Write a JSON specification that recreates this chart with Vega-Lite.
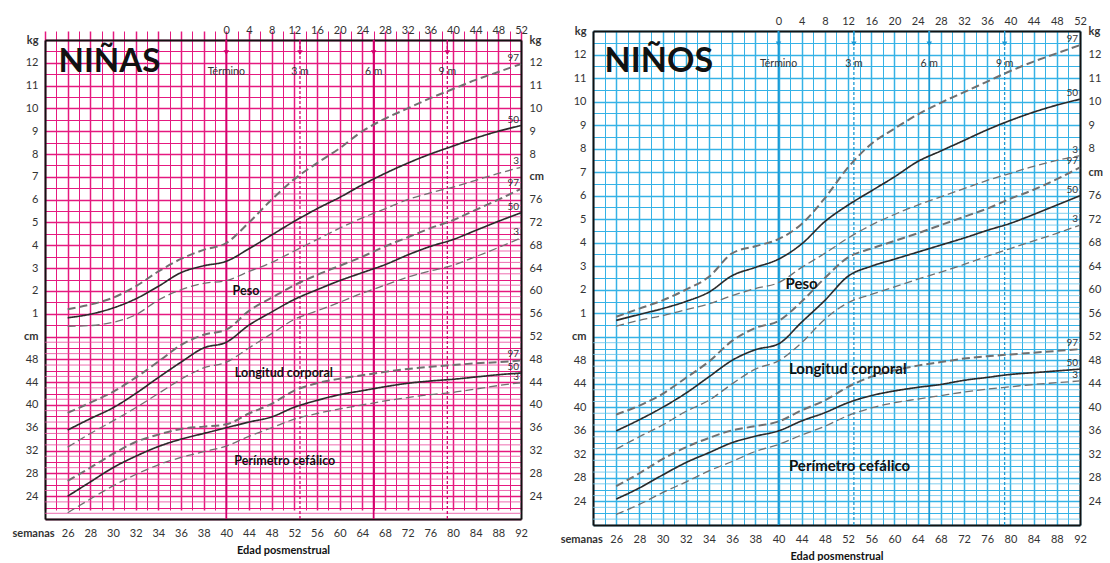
{
"$schema":"https://vega.github.io/schema/vega-lite/v6.json",
"padding":{"left":11,"top":15,"right":0,"bottom":0},
"spacing":16,
"config":{"font":"Lato","view":{"stroke":null},"axis":{"labelFont":"Lato","labelFontSize":11,"labelColor":"#333","domainColor":"#111","domainWidth":2,"ticks":false,"labelOverlap":false,"labelFlush":false,"labelBound":false}},
"datasets":{
"gc":[
{"w":26,"p":"50","peso":0.82,"long":35.6,"pc":24.0},{"w":28,"p":"50","peso":0.98,"long":37.6,"pc":26.5},{"w":30,"p":"50","peso":1.25,"long":39.5,"pc":29.0},{"w":32,"p":"50","peso":1.65,"long":42.0,"pc":31.0},{"w":34,"p":"50","peso":2.2,"long":44.8,"pc":32.7},{"w":36,"p":"50","peso":2.8,"long":47.5,"pc":34.0},{"w":38,"p":"50","peso":3.1,"long":50.0,"pc":35.0},{"w":40,"p":"50","peso":3.3,"long":51.0,"pc":36.0},{"w":44,"p":"50","peso":3.85,"long":54.0,"pc":37.0},{"w":48,"p":"50","peso":4.45,"long":56.3,"pc":37.9},{"w":52,"p":"50","peso":5.05,"long":58.5,"pc":39.6},{"w":56,"p":"50","peso":5.6,"long":60.2,"pc":40.8},{"w":60,"p":"50","peso":6.1,"long":61.8,"pc":41.8},{"w":64,"p":"50","peso":6.65,"long":63.2,"pc":42.5},{"w":68,"p":"50","peso":7.15,"long":64.6,"pc":43.2},{"w":72,"p":"50","peso":7.6,"long":66.3,"pc":43.8},{"w":76,"p":"50","peso":8.0,"long":67.8,"pc":44.2},{"w":80,"p":"50","peso":8.35,"long":69.0,"pc":44.5},{"w":84,"p":"50","peso":8.7,"long":70.6,"pc":44.9},{"w":88,"p":"50","peso":9.0,"long":72.2,"pc":45.3},{"w":92,"p":"50","peso":9.25,"long":73.7,"pc":45.6},
{"w":26,"p":"97","peso":1.2,"long":38.6,"pc":26.7},{"w":28,"p":"97","peso":1.4,"long":40.4,"pc":29.0},{"w":30,"p":"97","peso":1.7,"long":42.3,"pc":31.4},{"w":32,"p":"97","peso":2.2,"long":44.8,"pc":33.5},{"w":34,"p":"97","peso":2.85,"long":47.6,"pc":34.8},{"w":36,"p":"97","peso":3.4,"long":50.5,"pc":35.8},{"w":38,"p":"97","peso":3.8,"long":52.3,"pc":36.2},{"w":40,"p":"97","peso":4.1,"long":53.2,"pc":36.6},{"w":44,"p":"97","peso":5.0,"long":56.5,"pc":38.5},{"w":48,"p":"97","peso":6.0,"long":58.8,"pc":40.2},{"w":52,"p":"97","peso":6.9,"long":61.0,"pc":42.5},{"w":56,"p":"97","peso":7.6,"long":62.8,"pc":43.8},{"w":60,"p":"97","peso":8.25,"long":64.4,"pc":44.6},{"w":64,"p":"97","peso":9.0,"long":66.0,"pc":45.2},{"w":68,"p":"97","peso":9.55,"long":67.8,"pc":45.8},{"w":72,"p":"97","peso":10.0,"long":69.4,"pc":46.3},{"w":76,"p":"97","peso":10.45,"long":71.0,"pc":46.7},{"w":80,"p":"97","peso":10.85,"long":72.4,"pc":47.0},{"w":84,"p":"97","peso":11.25,"long":74.2,"pc":47.3},{"w":88,"p":"97","peso":11.6,"long":76.0,"pc":47.5},{"w":92,"p":"97","peso":11.95,"long":77.9,"pc":47.8},
{"w":26,"p":"3","peso":0.45,"long":32.6,"pc":21.1},{"w":28,"p":"3","peso":0.48,"long":35.0,"pc":23.5},{"w":30,"p":"3","peso":0.62,"long":37.2,"pc":25.8},{"w":32,"p":"3","peso":0.95,"long":39.5,"pc":27.8},{"w":34,"p":"3","peso":1.6,"long":42.0,"pc":29.5},{"w":36,"p":"3","peso":2.05,"long":44.5,"pc":30.8},{"w":38,"p":"3","peso":2.33,"long":46.5,"pc":31.8},{"w":40,"p":"3","peso":2.45,"long":47.5,"pc":32.8},{"w":44,"p":"3","peso":2.85,"long":50.0,"pc":34.5},{"w":48,"p":"3","peso":3.25,"long":52.5,"pc":36.0},{"w":52,"p":"3","peso":3.75,"long":55.0,"pc":37.5},{"w":56,"p":"3","peso":4.25,"long":56.5,"pc":38.5},{"w":60,"p":"3","peso":4.75,"long":58.0,"pc":39.3},{"w":64,"p":"3","peso":5.2,"long":59.6,"pc":40.0},{"w":68,"p":"3","peso":5.6,"long":61.0,"pc":40.7},{"w":72,"p":"3","peso":6.0,"long":62.4,"pc":41.3},{"w":76,"p":"3","peso":6.3,"long":63.5,"pc":41.8},{"w":80,"p":"3","peso":6.55,"long":64.5,"pc":42.2},{"w":84,"p":"3","peso":6.85,"long":66.0,"pc":42.8},{"w":88,"p":"3","peso":7.15,"long":67.6,"pc":43.4},{"w":92,"p":"3","peso":7.42,"long":69.3,"pc":43.9}
],
"bc":[
{"w":26,"p":"50","peso":0.7,"long":36.0,"pc":24.4},{"w":28,"p":"50","peso":0.95,"long":37.9,"pc":26.3},{"w":30,"p":"50","peso":1.2,"long":40.0,"pc":28.5},{"w":32,"p":"50","peso":1.5,"long":42.4,"pc":30.6},{"w":34,"p":"50","peso":1.9,"long":45.2,"pc":32.3},{"w":36,"p":"50","peso":2.6,"long":48.0,"pc":34.0},{"w":38,"p":"50","peso":2.95,"long":49.8,"pc":35.1},{"w":40,"p":"50","peso":3.3,"long":50.8,"pc":36.0},{"w":44,"p":"50","peso":3.95,"long":54.5,"pc":37.7},{"w":48,"p":"50","peso":4.9,"long":58.2,"pc":39.1},{"w":52,"p":"50","peso":5.6,"long":62.3,"pc":40.8},{"w":56,"p":"50","peso":6.2,"long":64.0,"pc":42.0},{"w":60,"p":"50","peso":6.8,"long":65.2,"pc":42.8},{"w":64,"p":"50","peso":7.45,"long":66.4,"pc":43.4},{"w":68,"p":"50","peso":7.9,"long":67.6,"pc":43.9},{"w":72,"p":"50","peso":8.35,"long":68.8,"pc":44.6},{"w":76,"p":"50","peso":8.8,"long":70.1,"pc":45.1},{"w":80,"p":"50","peso":9.2,"long":71.3,"pc":45.6},{"w":84,"p":"50","peso":9.55,"long":72.8,"pc":45.9},{"w":88,"p":"50","peso":9.85,"long":74.4,"pc":46.2},{"w":92,"p":"50","peso":10.1,"long":76.0,"pc":46.5},
{"w":26,"p":"97","peso":0.85,"long":38.8,"pc":26.6},{"w":28,"p":"97","peso":1.2,"long":40.3,"pc":28.8},{"w":30,"p":"97","peso":1.55,"long":42.3,"pc":31.2},{"w":32,"p":"97","peso":2.0,"long":45.0,"pc":33.2},{"w":34,"p":"97","peso":2.55,"long":47.8,"pc":34.8},{"w":36,"p":"97","peso":3.55,"long":51.3,"pc":36.1},{"w":38,"p":"97","peso":3.85,"long":53.5,"pc":36.8},{"w":40,"p":"97","peso":4.15,"long":54.7,"pc":37.6},{"w":44,"p":"97","peso":4.8,"long":58.0,"pc":39.5},{"w":48,"p":"97","peso":5.9,"long":62.0,"pc":41.2},{"w":52,"p":"97","peso":7.2,"long":65.5,"pc":43.5},{"w":56,"p":"97","peso":8.2,"long":67.0,"pc":45.2},{"w":60,"p":"97","peso":8.85,"long":68.3,"pc":46.3},{"w":64,"p":"97","peso":9.45,"long":69.6,"pc":47.1},{"w":68,"p":"97","peso":9.95,"long":71.0,"pc":47.7},{"w":72,"p":"97","peso":10.4,"long":72.4,"pc":48.3},{"w":76,"p":"97","peso":10.85,"long":73.8,"pc":48.7},{"w":80,"p":"97","peso":11.3,"long":75.5,"pc":49.0},{"w":84,"p":"97","peso":11.7,"long":77.0,"pc":49.3},{"w":88,"p":"97","peso":12.05,"long":78.8,"pc":49.6},{"w":92,"p":"97","peso":12.4,"long":80.8,"pc":49.9},
{"w":26,"p":"3","peso":0.45,"long":32.9,"pc":21.8},{"w":28,"p":"3","peso":0.7,"long":35.0,"pc":23.5},{"w":30,"p":"3","peso":0.9,"long":37.0,"pc":25.5},{"w":32,"p":"3","peso":1.15,"long":39.3,"pc":27.3},{"w":34,"p":"3","peso":1.4,"long":41.2,"pc":29.2},{"w":36,"p":"3","peso":1.75,"long":44.0,"pc":30.8},{"w":38,"p":"3","peso":2.05,"long":46.5,"pc":32.5},{"w":40,"p":"3","peso":2.3,"long":47.9,"pc":33.7},{"w":44,"p":"3","peso":2.95,"long":51.0,"pc":35.3},{"w":48,"p":"3","peso":3.55,"long":55.0,"pc":36.8},{"w":52,"p":"3","peso":4.2,"long":57.8,"pc":38.6},{"w":56,"p":"3","peso":4.75,"long":59.2,"pc":39.9},{"w":60,"p":"3","peso":5.2,"long":60.5,"pc":40.8},{"w":64,"p":"3","peso":5.6,"long":61.8,"pc":41.4},{"w":68,"p":"3","peso":5.95,"long":63.0,"pc":42.0},{"w":72,"p":"3","peso":6.3,"long":64.3,"pc":42.6},{"w":76,"p":"3","peso":6.65,"long":65.7,"pc":43.1},{"w":80,"p":"3","peso":6.95,"long":67.0,"pc":43.5},{"w":84,"p":"3","peso":7.25,"long":68.3,"pc":43.9},{"w":88,"p":"3","peso":7.5,"long":69.6,"pc":44.2},{"w":92,"p":"3","peso":7.7,"long":71.0,"pc":44.5}
],
"dense":[
{"w":24,"v":21},{"w":24,"v":23},{"w":24,"v":25},{"w":24,"v":27},{"w":24,"v":29},{"w":24,"v":31},{"w":24,"v":33},{"w":24,"v":35},{"w":24,"v":37},{"w":24,"v":39},{"w":24,"v":41},{"w":24,"v":43},{"w":24,"v":45},{"w":24,"v":47},{"w":24,"v":49},{"w":24,"v":51},
{"w":36,"v":53},{"w":36,"v":55},{"w":36,"v":57},{"w":36,"v":59},
{"w":48,"v":61},{"w":48,"v":63},{"w":48,"v":65},{"w":48,"v":67},{"w":48,"v":69},{"w":48,"v":71},{"w":48,"v":73},{"w":48,"v":75},{"w":48,"v":77},{"w":48,"v":79}
],
"mk":[{"w":40,"t":"Término"},{"w":53,"t":"3 m"},{"w":66,"t":"6 m"},{"w":79,"t":"9 m"}],
"gt":[{"w":41.1,"v":60.0,"t":"Peso"},{"w":41.5,"v":45.6,"t":"Longitud corporal"},{"w":41.4,"v":30.2,"t":"Perímetro cefálico"}],
"bt":[{"w":41.2,"v":61.0,"t":"Peso"},{"w":41.8,"v":46.5,"t":"Longitud corporal"},{"w":41.8,"v":30.0,"t":"Perímetro cefálico"}]
},
"hconcat":[
{
"width":476,"height":488,
"resolve":{"scale":{"x":"independent","y":"independent"}},
"layer":[
{
"layer":[
{"data":{"name":"dense"},"mark":{"type":"rule","color":"#e94a9d","strokeWidth":0.8},
"encoding":{"x":{"field":"w","type":"quantitative","scale":{"domain":[24,40,92],"range":[0,181.3,476],"nice":false,"zero":false},"axis":null},"x2":{"datum":92},
"y":{"field":"v","type":"quantitative","scale":{"domain":[20,104],"range":[488,9],"nice":false,"zero":false},"axis":null}}},
{"data":{"name":"mk"},"transform":[{"filter":"datum.t == 'Término' || datum.t == '6 m'"}],"mark":{"type":"rule","color":"#d4006e","strokeWidth":1.8},
"encoding":{"x":{"field":"w","type":"quantitative","scale":{"domain":[24,40,92],"range":[0,181.3,476],"nice":false,"zero":false},"axis":null},
"y":{"datum":20,"type":"quantitative","scale":{"domain":[20,104],"range":[488,9],"nice":false,"zero":false},"axis":null},"y2":{"datum":104}}},
{"data":{"name":"mk"},"transform":[{"filter":"datum.t == '3 m' || datum.t == '9 m'"}],"mark":{"type":"rule","color":"#d4006e","strokeWidth":1.3,"strokeDash":[3,2]},
"encoding":{"x":{"field":"w","type":"quantitative","scale":{"domain":[24,40,92],"range":[0,181.3,476],"nice":false,"zero":false},"axis":null},
"y":{"datum":20,"type":"quantitative","scale":{"domain":[20,104],"range":[488,9],"nice":false,"zero":false},"axis":null},"y2":{"datum":104}}}
]
},
{
"encoding":{
"x":{"field":"w","type":"quantitative","scale":{"domain":[24,40,92],"range":[0,181.3,476],"nice":false,"zero":false},
"axis":{"orient":"bottom","title":"Edad  posmenstrual","titleFontSize":11,"titleFontWeight":"bold","titleColor":"#111","titlePadding":6,"labelPadding":8,
"values":[24,24.8,25,26,27,28,29,30,31,32,33,34,35,36,37,38,39,40,42,44,46,48,50,52,54,56,58,60,62,64,66,68,70,72,74,76,78,80,82,84,86,88,90,92],
"labelExpr":"datum.value == 24.8 ? 'semanas' : (datum.value >= 26 && ((datum.value <= 40 && datum.value % 2 == 0) || (datum.value > 40 && datum.value % 4 == 0))) ? datum.value : ''",
"labelAlign":{"condition":{"test":"datum.value == 24.8","value":"right"},"value":"center"},
"labelFontWeight":{"condition":{"test":"datum.value == 24.8","value":"bold"},"value":"normal"},
"grid":true,"gridColor":"#e5197f",
"gridOpacity":{"condition":{"test":"datum.value == 24.8","value":0},"value":1},
"gridWidth":{"condition":{"test":"(datum.value <= 40 && datum.value % 2 == 0) || (datum.value > 40 && datum.value % 4 == 0)","value":1.5},"value":1}}},
"y":{"field":"v","type":"quantitative","scale":{"domain":[20,104],"range":[488,9],"nice":false,"zero":false},
"axis":{"orient":"left","title":null,"labelPadding":7,
"values":[20,22,24,26,28,30,32,34,36,38,40,42,44,46,48,50,52,54,56,58,60,62,64,66,68,70,72,74,76,78,80,82,84,86,88,90,92,94,96,98,100,102,104],
"labelExpr":"datum.value < 24 || datum.value % 4 != 0 ? '' : datum.value <= 48 ? datum.value : datum.value == 52 ? 'cm' : datum.value == 104 ? 'kg' : (datum.value - 52) / 4",
"labelFontWeight":{"condition":{"test":"datum.value == 52 || datum.value == 104","value":"bold"},"value":"normal"},
"grid":true,"gridColor":"#e5197f",
"gridWidth":{"condition":{"test":"datum.value % 4 == 0","value":1.4},"value":1}}}
},
"layer":[
{"data":{"name":"gc"},"transform":[{"fold":["long","pc"],"as":["m","v"]}],"mark":{"type":"line","interpolate":"monotone"},
"encoding":{"detail":{"field":"m"},
"color":{"field":"p","type":"nominal","scale":{"domain":["3","50","97"],"range":["#707070","#2a2a2a","#707070"]},"legend":null},
"strokeDash":{"field":"p","type":"nominal","scale":{"domain":["3","50","97"],"range":[[8,4],[1,0],[8,4]]},"legend":null},
"strokeWidth":{"field":"p","type":"ordinal","scale":{"domain":["3","50","97"],"range":[1.3,2,1.3]},"legend":null}}},
{"data":{"name":"gc"},"transform":[{"fold":["long","pc"],"as":["m","v"]},{"filter":"datum.w == 92"}],"mark":{"type":"text","align":"right","baseline":"bottom","dx":-2,"dy":-1,"fontSize":10,"color":"#333"},"encoding":{"text":{"field":"p"}}},
{"data":{"name":"gt"},"mark":{"type":"text","align":"left","baseline":"middle","fontSize":12.5,"fontWeight":"bold","color":"#111"},"encoding":{"text":{"field":"t"}}}
]
},
{
"encoding":{
"x":{"field":"w","type":"quantitative","scale":{"domain":[24,40,92],"range":[0,181.3,476],"nice":false,"zero":false},
"axis":{"orient":"top","title":null,"offset":-9,"labelPadding":5,"grid":false,"values":[40,44,48,52,56,60,64,68,72,76,80,84,88,92],"labelExpr":"datum.value - 40"}},
"y":{"field":"peso","type":"quantitative","scale":{"domain":[-8,13],"range":[488,9],"nice":false,"zero":false},
"axis":{"orient":"right","title":null,"labelPadding":8,"grid":false,
"values":[-7,-6,-5,-4,-3,-2,-1,0,1,2,3,4,5,6,7,8,9,10,11,12,13],
"labelExpr":"datum.value == 13 ? 'kg' : datum.value == 7 ? 'cm' : datum.value >= 8 ? datum.value : 52 + 4 * datum.value",
"labelFontWeight":{"condition":{"test":"datum.value == 13 || datum.value == 7","value":"bold"},"value":"normal"}}}
},
"layer":[
{"data":{"name":"gc"},"mark":{"type":"line","interpolate":"monotone"},
"encoding":{
"color":{"field":"p","type":"nominal","scale":{"domain":["3","50","97"],"range":["#707070","#2a2a2a","#707070"]},"legend":null},
"strokeDash":{"field":"p","type":"nominal","scale":{"domain":["3","50","97"],"range":[[8,4],[1,0],[8,4]]},"legend":null},
"strokeWidth":{"field":"p","type":"ordinal","scale":{"domain":["3","50","97"],"range":[1.3,2,1.3]},"legend":null}}},
{"data":{"name":"gc"},"transform":[{"filter":"datum.w == 92"}],"mark":{"type":"text","align":"right","baseline":"bottom","dx":-2,"dy":-1,"fontSize":10,"color":"#333"},"encoding":{"text":{"field":"p"}}}
]
},
{
"layer":[
{"data":{"name":"mk"},"mark":{"type":"rule","color":"#d4006e","strokeWidth":1.3},
"encoding":{"x":{"field":"w","type":"quantitative","scale":{"domain":[24,40,92],"range":[0,181.3,476],"nice":false,"zero":false},"axis":null},
"y":{"datum":13,"type":"quantitative","scale":{"domain":[-8,13],"range":[488,9],"nice":false,"zero":false},"axis":null},"y2":{"datum":12.45}}},
{"data":{"name":"mk"},"mark":{"type":"point","shape":"triangle-down","filled":true,"size":30,"color":"#d4006e","opacity":1},
"encoding":{"x":{"field":"w","type":"quantitative","scale":{"domain":[24,40,92],"range":[0,181.3,476],"nice":false,"zero":false},"axis":null},
"y":{"datum":12.45,"type":"quantitative","scale":{"domain":[-8,13],"range":[488,9],"nice":false,"zero":false},"axis":null}}},
{"data":{"name":"mk"},"mark":{"type":"text","fontSize":10.5,"color":"#333","baseline":"middle"},
"encoding":{"x":{"field":"w","type":"quantitative","scale":{"domain":[24,40,92],"range":[0,181.3,476],"nice":false,"zero":false},"axis":null},
"y":{"datum":11.6,"type":"quantitative","scale":{"domain":[-8,13],"range":[488,9],"nice":false,"zero":false},"axis":null},"text":{"field":"t"}}},
{"data":{"values":[{"t":"NIÑAS"}]},"mark":{"type":"text","align":"left","baseline":"middle","fontSize":33,"fontWeight":"bold","color":"#111"},
"encoding":{"x":{"datum":25.2,"type":"quantitative","scale":{"domain":[24,40,92],"range":[0,181.3,476],"nice":false,"zero":false},"axis":null},
"y":{"datum":12.05,"type":"quantitative","scale":{"domain":[-8,13],"range":[488,9],"nice":false,"zero":false},"axis":null},"text":{"field":"t"}}}
]
}
]
},
{
"width":487,"height":494,
"resolve":{"scale":{"x":"independent","y":"independent"}},
"layer":[
{
"layer":[
{"data":{"name":"dense"},"mark":{"type":"rule","color":"#62c1ea","strokeWidth":0.8},
"encoding":{"x":{"field":"w","type":"quantitative","scale":{"domain":[24,40,92],"range":[0,185.5,487],"nice":false,"zero":false},"axis":null},"x2":{"datum":92},
"y":{"field":"v","type":"quantitative","scale":{"domain":[20,104],"nice":false,"zero":false},"axis":null}}},
{"data":{"name":"mk"},"transform":[{"filter":"datum.t == 'Término' || datum.t == '6 m'"}],"mark":{"type":"rule","color":"#1a9ad6","strokeWidth":1.8},
"encoding":{"x":{"field":"w","type":"quantitative","scale":{"domain":[24,40,92],"range":[0,185.5,487],"nice":false,"zero":false},"axis":null},
"y":{"datum":20,"type":"quantitative","scale":{"domain":[20,104],"nice":false,"zero":false},"axis":null},"y2":{"datum":104}}},
{"data":{"name":"mk"},"transform":[{"filter":"datum.t == '3 m' || datum.t == '9 m'"}],"mark":{"type":"rule","color":"#1a9ad6","strokeWidth":1.3,"strokeDash":[3,2]},
"encoding":{"x":{"field":"w","type":"quantitative","scale":{"domain":[24,40,92],"range":[0,185.5,487],"nice":false,"zero":false},"axis":null},
"y":{"datum":20,"type":"quantitative","scale":{"domain":[20,104],"nice":false,"zero":false},"axis":null},"y2":{"datum":104}}}
]
},
{
"encoding":{
"x":{"field":"w","type":"quantitative","scale":{"domain":[24,40,92],"range":[0,185.5,487],"nice":false,"zero":false},
"axis":{"orient":"bottom","title":"Edad  posmenstrual","titleFontSize":11,"titleFontWeight":"bold","titleColor":"#111","titlePadding":6,"labelPadding":8,
"values":[24,24.8,25,26,27,28,29,30,31,32,33,34,35,36,37,38,39,40,42,44,46,48,50,52,54,56,58,60,62,64,66,68,70,72,74,76,78,80,82,84,86,88,90,92],
"labelExpr":"datum.value == 24.8 ? 'semanas' : (datum.value >= 26 && ((datum.value <= 40 && datum.value % 2 == 0) || (datum.value > 40 && datum.value % 4 == 0))) ? datum.value : ''",
"labelAlign":{"condition":{"test":"datum.value == 24.8","value":"right"},"value":"center"},
"labelFontWeight":{"condition":{"test":"datum.value == 24.8","value":"bold"},"value":"normal"},
"grid":true,"gridColor":"#35b2e6",
"gridOpacity":{"condition":{"test":"datum.value == 24.8","value":0},"value":1},
"gridWidth":{"condition":{"test":"(datum.value <= 40 && datum.value % 2 == 0) || (datum.value > 40 && datum.value % 4 == 0)","value":1.5},"value":1}}},
"y":{"field":"v","type":"quantitative","scale":{"domain":[20,104],"nice":false,"zero":false},
"axis":{"orient":"left","title":null,"labelPadding":7,
"values":[20,22,24,26,28,30,32,34,36,38,40,42,44,46,48,50,52,54,56,58,60,62,64,66,68,70,72,74,76,78,80,82,84,86,88,90,92,94,96,98,100,102,104],
"labelExpr":"datum.value < 24 || datum.value % 4 != 0 ? '' : datum.value <= 48 ? datum.value : datum.value == 52 ? 'cm' : datum.value == 104 ? 'kg' : (datum.value - 52) / 4",
"labelFontWeight":{"condition":{"test":"datum.value == 52 || datum.value == 104","value":"bold"},"value":"normal"},
"grid":true,"gridColor":"#35b2e6",
"gridWidth":{"condition":{"test":"datum.value % 4 == 0","value":1.4},"value":1}}}
},
"layer":[
{"data":{"name":"bc"},"transform":[{"fold":["long","pc"],"as":["m","v"]}],"mark":{"type":"line","interpolate":"monotone"},
"encoding":{"detail":{"field":"m"},
"color":{"field":"p","type":"nominal","scale":{"domain":["3","50","97"],"range":["#707070","#2a2a2a","#707070"]},"legend":null},
"strokeDash":{"field":"p","type":"nominal","scale":{"domain":["3","50","97"],"range":[[8,4],[1,0],[8,4]]},"legend":null},
"strokeWidth":{"field":"p","type":"ordinal","scale":{"domain":["3","50","97"],"range":[1.3,2,1.3]},"legend":null}}},
{"data":{"name":"bc"},"transform":[{"fold":["long","pc"],"as":["m","v"]},{"filter":"datum.w == 92"}],"mark":{"type":"text","align":"right","baseline":"bottom","dx":-2,"dy":-1,"fontSize":10,"color":"#333"},"encoding":{"text":{"field":"p"}}},
{"data":{"name":"bt"},"mark":{"type":"text","align":"left","baseline":"middle","fontSize":15,"fontWeight":"bold","color":"#111"},"encoding":{"text":{"field":"t"}}}
]
},
{
"encoding":{
"x":{"field":"w","type":"quantitative","scale":{"domain":[24,40,92],"range":[0,185.5,487],"nice":false,"zero":false},
"axis":{"orient":"top","title":null,"labelPadding":5,"grid":false,"values":[40,44,48,52,56,60,64,68,72,76,80,84,88,92],"labelExpr":"datum.value - 40"}},
"y":{"field":"peso","type":"quantitative","scale":{"domain":[-8,13],"nice":false,"zero":false},
"axis":{"orient":"right","title":null,"labelPadding":8,"grid":false,
"values":[-7,-6,-5,-4,-3,-2,-1,0,1,2,3,4,5,6,7,8,9,10,11,12,13],
"labelExpr":"datum.value == 13 ? 'kg' : datum.value == 7 ? 'cm' : datum.value >= 8 ? datum.value : 52 + 4 * datum.value",
"labelFontWeight":{"condition":{"test":"datum.value == 13 || datum.value == 7","value":"bold"},"value":"normal"}}}
},
"layer":[
{"data":{"name":"bc"},"mark":{"type":"line","interpolate":"monotone"},
"encoding":{
"color":{"field":"p","type":"nominal","scale":{"domain":["3","50","97"],"range":["#707070","#2a2a2a","#707070"]},"legend":null},
"strokeDash":{"field":"p","type":"nominal","scale":{"domain":["3","50","97"],"range":[[8,4],[1,0],[8,4]]},"legend":null},
"strokeWidth":{"field":"p","type":"ordinal","scale":{"domain":["3","50","97"],"range":[1.3,2,1.3]},"legend":null}}},
{"data":{"name":"bc"},"transform":[{"filter":"datum.w == 92"}],"mark":{"type":"text","align":"right","baseline":"bottom","dx":-2,"dy":-1,"fontSize":10,"color":"#333"},"encoding":{"text":{"field":"p"}}}
]
},
{
"layer":[
{"data":{"name":"mk"},"mark":{"type":"rule","color":"#1a9ad6","strokeWidth":1.3},
"encoding":{"x":{"field":"w","type":"quantitative","scale":{"domain":[24,40,92],"range":[0,185.5,487],"nice":false,"zero":false},"axis":null},
"y":{"datum":13,"type":"quantitative","scale":{"domain":[-8,13],"nice":false,"zero":false},"axis":null},"y2":{"datum":12.45}}},
{"data":{"name":"mk"},"mark":{"type":"point","shape":"triangle-down","filled":true,"size":30,"color":"#1a9ad6","opacity":1},
"encoding":{"x":{"field":"w","type":"quantitative","scale":{"domain":[24,40,92],"range":[0,185.5,487],"nice":false,"zero":false},"axis":null},
"y":{"datum":12.45,"type":"quantitative","scale":{"domain":[-8,13],"nice":false,"zero":false},"axis":null}}},
{"data":{"name":"mk"},"mark":{"type":"text","fontSize":10.5,"color":"#333","baseline":"middle"},
"encoding":{"x":{"field":"w","type":"quantitative","scale":{"domain":[24,40,92],"range":[0,185.5,487],"nice":false,"zero":false},"axis":null},
"y":{"datum":11.6,"type":"quantitative","scale":{"domain":[-8,13],"nice":false,"zero":false},"axis":null},"text":{"field":"t"}}},
{"data":{"values":[{"t":"NIÑOS"}]},"mark":{"type":"text","align":"left","baseline":"middle","fontSize":34,"fontWeight":"bold","color":"#111"},
"encoding":{"x":{"datum":25.0,"type":"quantitative","scale":{"domain":[24,40,92],"range":[0,185.5,487],"nice":false,"zero":false},"axis":null},
"y":{"datum":11.7,"type":"quantitative","scale":{"domain":[-8,13],"nice":false,"zero":false},"axis":null},"text":{"field":"t"}}}
]
}
]
}
]
}
